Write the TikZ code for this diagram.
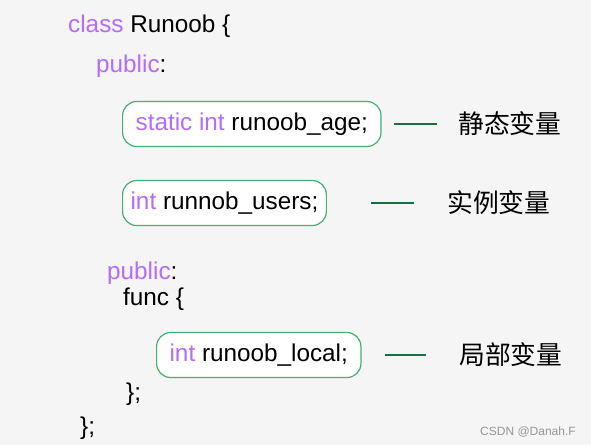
\documentclass[tikz,border=0pt]{standalone}
\usepackage{fontspec}
\setmainfont{Liberation Sans}
\newfontfamily\cjk{Noto Sans CJK SC}
\usetikzlibrary{positioning}
\definecolor{bggray}{RGB}{245,245,245}
\definecolor{kwpurple}{RGB}{180,108,250}
\definecolor{boxgreen}{RGB}{70,175,115}
\definecolor{linegreen}{RGB}{25,110,65}
\definecolor{markgray}{RGB}{150,150,150}
\newcommand{\keyw}[1]{\textcolor{kwpurple}{#1}}

\begin{document}
\begin{tikzpicture}[
    x=1pt, y=-1pt,
    % Global Styles
    font=\fontsize{24.3}{28}\selectfont,
    % Node Styles
    codeline/.style={
        anchor=base west,
        inner sep=0pt
    },
    varbox/.style={
        rectangle,
        draw=boxgreen,
        line width=1.2pt,
        fill=white,
        rounded corners=14pt,
        anchor=west,
        minimum height=45pt,
        inner xsep=13pt
    },
    varlabel/.style={
        anchor=west,
        inner sep=0pt,
        font=\fontsize{25.8}{30}\selectfont\cjk
    },
    tieline/.style={
        draw=linegreen,
        line width=1.6pt
    }
]

    % --- Canvas ---
    \fill[bggray] (0,0) rectangle (591,445);
    \useasboundingbox (0,0) rectangle (591,445);

    % --- Class body ---
    \node[codeline] (head) at (68,32) {\keyw{class} Runoob \{};
    \node[codeline] (pub1) at (96,72) {\keyw{public}:};

    % --- Static variable ---
    \node[varbox] (v1) at (122,124) {\keyw{static int} runoob\_age;};
    \node[varlabel] (l1) at (458,124) {静态变量};
    \draw[tieline, shorten <=12pt, shorten >=21pt] (v1.east) -- (l1.west);

    % --- Instance variable ---
    \node[varbox, inner xsep=8pt] (v2) at (122,203) {\keyw{int} runnob\_users;};
    \node[varlabel] (l2) at (447,203) {实例变量};
    \draw[tieline, shorten <=44pt, shorten >=33pt] (v2.east) -- (l2.west);

    % --- Method ---
    \node[codeline] (pub2) at (107,279) {\keyw{public}:};
    \node[codeline] (func) at (123,305) {func \{};

    % --- Local variable ---
    \node[varbox] (v3) at (156,355) {\keyw{int} runoob\_local;};
    \node[varlabel] (l3) at (459,355) {局部变量};
    \draw[tieline, shorten <=23pt, shorten >=33pt] (v3.east) -- (l3.west);

    \node[codeline] (fend) at (126,400) {\};};
    \node[codeline] (cend) at (80,434) {\};};

    % --- Watermark ---
    \node[codeline, text=markgray, font=\fontsize{12}{14}\selectfont] (mark) at (480,435) {CSDN @Danah.F};

\end{tikzpicture}
\end{document}
